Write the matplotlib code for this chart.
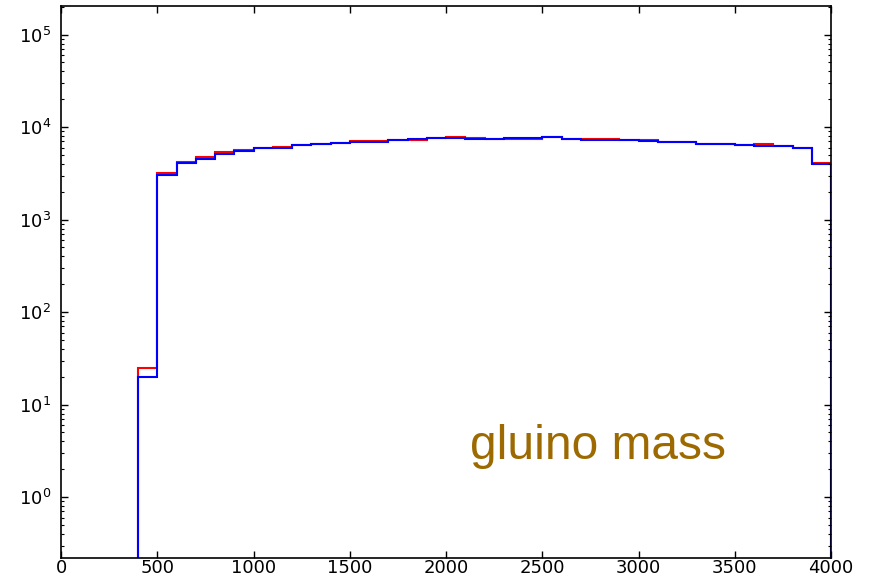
import numpy as np
import matplotlib
matplotlib.use("Agg")
import matplotlib.pyplot as plt
from matplotlib.ticker import NullFormatter, FixedLocator, LogFormatterSciNotation

# bin edges of the gluino mass histogram (GeV)
bin_edges = list(range(400, 4001, 100))

# counts per bin, two samples
counts_red = [25, 3190, 4190, 4700, 5320, 5650, 5940, 6090, 6340, 6560,
              6730, 7000, 7000, 7250, 7250, 7550, 7740, 7620, 7430, 7430,
              7430, 7820, 7490, 7430, 7400, 7180, 7180, 6840, 6840, 6610,
              6610, 6450, 6560, 6180, 5890, 4090]
counts_blue = [20, 3050, 4085, 4580, 5150, 5460, 5940, 5990, 6340, 6560,
               6730, 6840, 6840, 7250, 7490, 7550, 7550, 7430, 7430, 7680,
               7680, 7820, 7490, 7310, 7350, 7180, 7000, 6840, 6840, 6610,
               6610, 6450, 6290, 6180, 5890, 3950]

x_ticks = [0, 500, 1000, 1500, 2000, 2500, 3000, 3500, 4000]
y_ticks = [1e0, 1e1, 1e2, 1e3, 1e4, 1e5]
label_text = "gluino mass"

fig = plt.figure(figsize=(8.72, 5.8), dpi=100)
ax = fig.add_axes([0.070, 0.038, 0.883, 0.952])

ax.stairs(counts_red, bin_edges, baseline=1e-3, color="red", linewidth=1.5)
ax.stairs(counts_blue, bin_edges, baseline=1e-3, color="blue", linewidth=1.5)

ax.set_yscale("log")
ax.set_xlim(0, 4000)
ax.set_ylim(0.22, 2.05e5)

ax.xaxis.set_major_locator(FixedLocator(x_ticks))
ax.yaxis.set_major_locator(FixedLocator(y_ticks))
ax.yaxis.set_major_formatter(LogFormatterSciNotation())
minor = [m * 10.0 ** e for e in range(-1, 6) for m in range(2, 10)]
minor = [v for v in minor if 0.22 <= v <= 2.05e5]
ax.yaxis.set_minor_locator(FixedLocator(minor))
ax.yaxis.set_minor_formatter(NullFormatter())

ax.tick_params(which="both", direction="in", top=True, right=True,
               labelsize=13)
ax.tick_params(axis="y", pad=7)
ax.tick_params(axis="x", pad=1)
ax.tick_params(which="major", length=5, width=1)
ax.tick_params(which="minor", length=2.5, width=0.8)
for s in ax.spines.values():
    s.set_linewidth(1.2)

fig.text(470 / 872, (580 - 459) / 580, label_text, color="#9c6a00",
         fontsize=34.5, family="Liberation Sans", ha="left", va="baseline")

fig.savefig("out.png", dpi=100)
